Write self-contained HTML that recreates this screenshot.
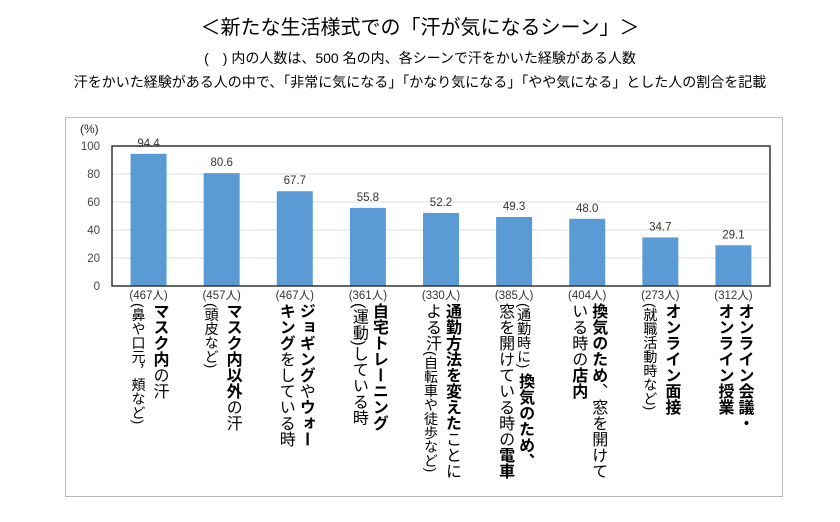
<!DOCTYPE html>
<html><head><meta charset="utf-8">
<style>
body{margin:0;width:840px;height:522px;background:#fff;position:relative;overflow:hidden;font-family:"Liberation Sans","Noto Sans CJK JP",sans-serif;color:#000}
.t{position:absolute;left:0;width:840px;text-align:center;white-space:nowrap}
.lab{position:absolute;top:303px;writing-mode:vertical-rl;font-size:16px;line-height:20px;white-space:nowrap}
.lab b{font-weight:bold}
.lab .s{font-size:14px}
.n{position:absolute;top:287px;font-size:11.5px;color:#333;width:60px;text-align:center}
</style></head><body>
<div class="t" style="top:11px;font-size:20px">＜新たな生活様式での「汗が気になるシーン」＞</div>
<div class="t" style="top:48px;font-size:14px">(　) 内の人数は、500 名の内、各シーンで汗をかいた経験がある人数</div>
<div class="t" style="top:72px;font-size:14px">汗をかいた経験がある人の中で、「非常に気になる」「かなり気になる」「やや気になる」とした人の割合を記載</div>
<div style="position:absolute;left:65px;top:117px;width:716px;height:378px;border:1px solid #bbb"></div>
<svg id="chart" width="840" height="522" style="position:absolute;left:0;top:0"></svg>
<div id="labels"></div>
<script>
const categories=["マスク内の汗","マスク内以外の汗","ジョギングやウォーキング","自宅トレーニング","通勤方法を変えたことによる汗","通勤時の電車","換気のため窓を開けている店内","オンライン面接","オンライン会議・授業"];
const values=[94.4,80.6,67.7,55.8,52.2,49.3,48.0,34.7,29.1];
const counts=["(467人)","(457人)","(467人)","(361人)","(330人)","(385人)","(404人)","(273人)","(312人)"];
const ticks=[0,20,40,60,80,100];
const labelsHtml=[
'<b>マスク内</b>の汗<br><span class="s">(鼻や口元，頬など)</span>',
'<b>マスク内以外</b>の汗<br><span class="s">(頭皮など)</span>',
'<b>ジョギング</b>や<b>ウォー</b><br><b>キング</b>をしている時',
'<b>自宅トレーニング</b><br>(運動)している時',
'<b>通勤方法を変えた</b>ことに<br>よる汗<span class="s">(自転車や徒歩など)</span>',
'<span class="s">(通勤時に)</span> <b>換気のため、</b><br>窓を開けている時の<b>電車</b>',
'<b>換気のため</b>、窓を開けて<br>いる時の<b>店内</b>',
'<b>オンライン面接</b><br><span class="s">(就職活動時など)</span>',
'<b>オンライン会議・</b><br><b>オンライン授業</b>'];
const L=112,R=770,T=146,B=286;
const y=v=>B-(v/100)*(B-T);
const bw=(R-L)/categories.length;
const x=i=>L+bw*(i+0.5);
const svg=document.getElementById('chart');
const NS='http://www.w3.org/2000/svg';
function mk(tag,a){const e=document.createElementNS(NS,tag);for(const k in a)e.setAttribute(k,a[k]);svg.appendChild(e);return e;}
ticks.forEach(t=>{
  if(t>0&&t<100){const g=mk('line',{x1:L,x2:R,y1:y(t),y2:y(t),stroke:'#ddd','stroke-width':1});
  
  }
  const tx=mk('text',{x:100,y:y(t)+4,'text-anchor':'end','font-size':11.5,fill:'#444','font-family':'Liberation Sans'});
  tx.textContent=t;
  
  
});
const yt=mk('text',{x:80,y:133,'font-size':12,fill:'#222','font-family':'Liberation Sans'});
yt.textContent='(%)';


values.forEach((v,i)=>{
  const r=mk('rect',{x:x(i)-18,y:y(v),width:36,height:B-y(v),fill:'#5b9bd5'});
  
  
  const tx=mk('text',{x:x(i),y:y(v)-7,'text-anchor':'middle','font-size':11.5,fill:'#333','font-family':'Liberation Sans'});
  tx.textContent=v.toFixed(1);
  
  
});
const fr=mk('rect',{x:L,y:T,width:R-L,height:B-T,fill:'none',stroke:'#333','stroke-width':1.5});


const lab=document.getElementById('labels');
categories.forEach((c,i)=>{
  const n=document.createElement('div');n.className='n';n.style.left=(x(i)-30)+'px';n.textContent=counts[i];
  
  
  lab.appendChild(n);
  const d=document.createElement('div');d.className='lab';d.innerHTML=labelsHtml[i];
  
  
  lab.appendChild(d);
  d.style.left=(x(i)-d.offsetWidth/2)+'px';
});
</script>
</body></html>
